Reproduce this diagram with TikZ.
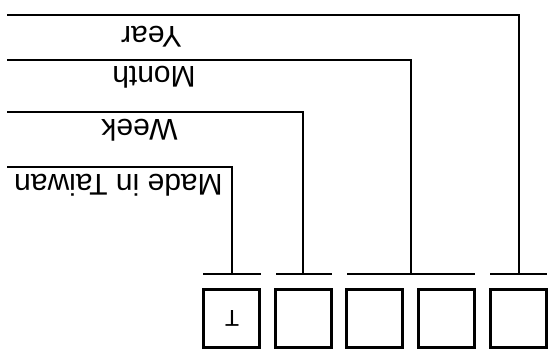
\documentclass[tikz,border=0pt]{standalone}
\usepackage{fontspec}
\setmainfont{Liberation Sans}
\begin{document}
\begin{tikzpicture}[x=1pt,y=-1pt,
  digitbox/.style={draw,line width=3pt,minimum width=56pt,minimum height=58pt,inner sep=0pt},
  lbl/.style={rotate=180,inner sep=0pt,font=\fontsize{30}{36}\selectfont},
  lead/.style={line width=1.4pt},
  bracket/.style={line width=1.4pt}]
\useasboundingbox (0,0) rectangle (557,360);
% code digits
\node[digitbox] (b1) at (231.5,318.5) {};
\node[digitbox] (b2) at (303.5,318.5) {};
\node[digitbox] (b3) at (374.5,318.5) {};
\node[digitbox] (b4) at (446.5,318.5) {};
\node[digitbox] (b5) at (518,318.5) {};
\node[rotate=180,inner sep=0pt,font=\fontsize{23}{27}\selectfont] (t) at (232,318.5) {T};
% brackets over the digit groups
\coordinate (g1l) at (203,274); \coordinate (g1r) at (261,274);
\coordinate (g2l) at (276,274); \coordinate (g2r) at (332,274);
\coordinate (g3l) at (347,274); \coordinate (g3r) at (475,274);
\coordinate (g4l) at (490,274); \coordinate (g4r) at (547,274);
\draw[bracket] (g1l) -- (g1r);
\draw[bracket] (g2l) -- (g2r);
\draw[bracket] (g3l) -- (g3r);
\draw[bracket] (g4l) -- (g4r);
\coordinate (g1) at (232,274);
\coordinate (g2) at (303,274);
\coordinate (g3) at (411,274);
\coordinate (g4) at (519,274);
% leader lines
\coordinate (e1) at (7,167);
\coordinate (e2) at (7,112);
\coordinate (e3) at (7,60);
\coordinate (e4) at (7,15);
\draw[lead] (g1) |- (e1);
\draw[lead] (g2) |- (e2);
\draw[lead] (g3) |- (e3);
\draw[lead] (g4) |- (e4);
% labels
\node[lbl] (l1) at (118.5,185) {Made in Taiwan};
\node[lbl] (l2) at (139.5,130) {Week};
\node[lbl] (l3) at (154,77.5) {Month};
\node[lbl] (l4) at (151.5,36.5) {Year};
\end{tikzpicture}
\end{document}
